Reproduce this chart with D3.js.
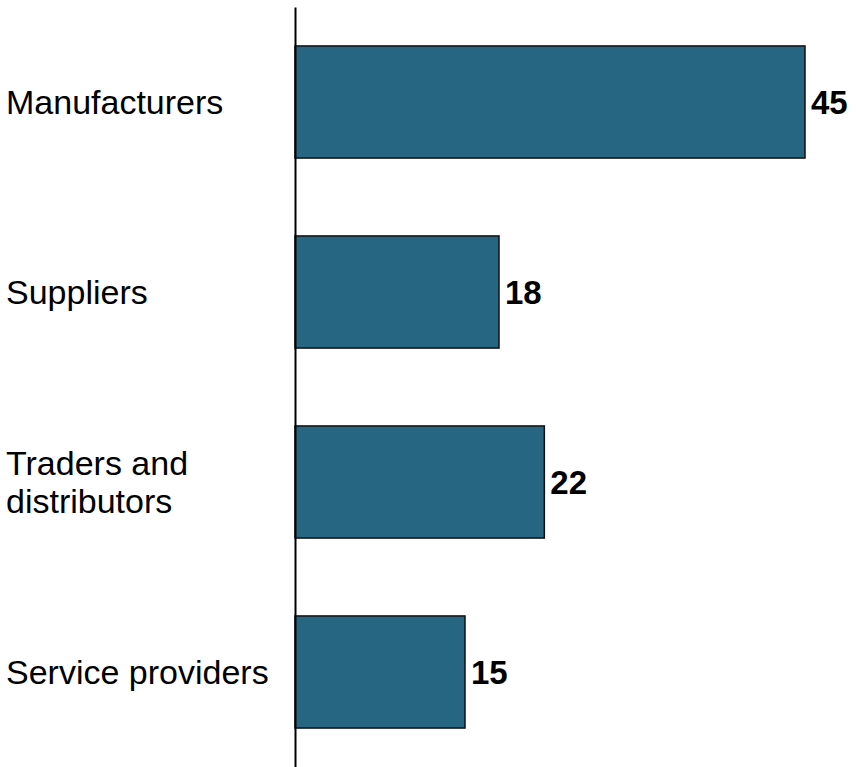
<!DOCTYPE html>
<html>
<head>
<meta charset="utf-8">
<script src="https://cdn.jsdelivr.net/npm/d3@7"></script>
<style>
  html, body { margin: 0; padding: 0; background: #fff; }
  svg { display: block; }
</style>
</head>
<body>
<svg id="chart" width="857" height="767"></svg>
<script>
// Respondent groups and their counts
const categories = ["Manufacturers", "Suppliers", "Traders and distributors", "Service providers"];
const labelLines = [["Manufacturers"], ["Suppliers"], ["Traders and", "distributors"], ["Service providers"]];
const values = [45, 18, 22, 15];

const svg = d3.select("#chart");
const font = "'Liberation Sans', Arial, Helvetica, sans-serif";
const barColor = "#266682";

const x = d3.scaleLinear().domain([0, 45]).range([295, 805]);
const y = d3.scaleBand()
  .domain(categories)
  .range([7, 767])
  .paddingInner(0.41)
  .paddingOuter(0.205);

// Bars
svg.append("g").selectAll("rect")
  .data(categories)
  .join("rect")
  .attr("x", x(0))
  .attr("y", d => y(d))
  .attr("width", (d, i) => x(values[i]) - x(0))
  .attr("height", y.bandwidth())
  .attr("fill", barColor)
  .attr("stroke", "#111")
  .attr("stroke-width", 1.5);

// Vertical baseline axis (no ticks)
const axis = d3.axisLeft(y).tickSize(0).tickFormat("");
const axisG = svg.append("g")
  .attr("transform", `translate(${x(0)},0)`)
  .call(axis);
axisG.select(".domain").attr("stroke", "#000").attr("stroke-width", 2);

// Value labels at the end of each bar
svg.append("g").selectAll("text")
  .data(categories)
  .join("text")
  .attr("x", (d, i) => x(values[i]) + 6)
  .attr("y", d => y(d) + y.bandwidth() / 2 + 12)
  .attr("font-family", font)
  .attr("font-size", 33)
  .attr("font-weight", "bold")
  .attr("fill", "#000")
  .text((d, i) => values[i]);

// Category labels, left aligned
const lineH = 38;
const catG = svg.append("g");
categories.forEach((c, i) => {
  const lines = labelLines[i];
  const mid = y(c) + y.bandwidth() / 2;
  const firstBaseline = mid + 12 - (lines.length - 1) * lineH / 2;
  const t = catG.append("text")
    .attr("font-family", font)
    .attr("font-size", 34)
    .attr("fill", "#000");
  lines.forEach((ln, j) => {
    t.append("tspan")
      .attr("x", 6)
      .attr("y", firstBaseline + j * lineH)
      .text(ln);
  });
});
</script>
</body>
</html>
